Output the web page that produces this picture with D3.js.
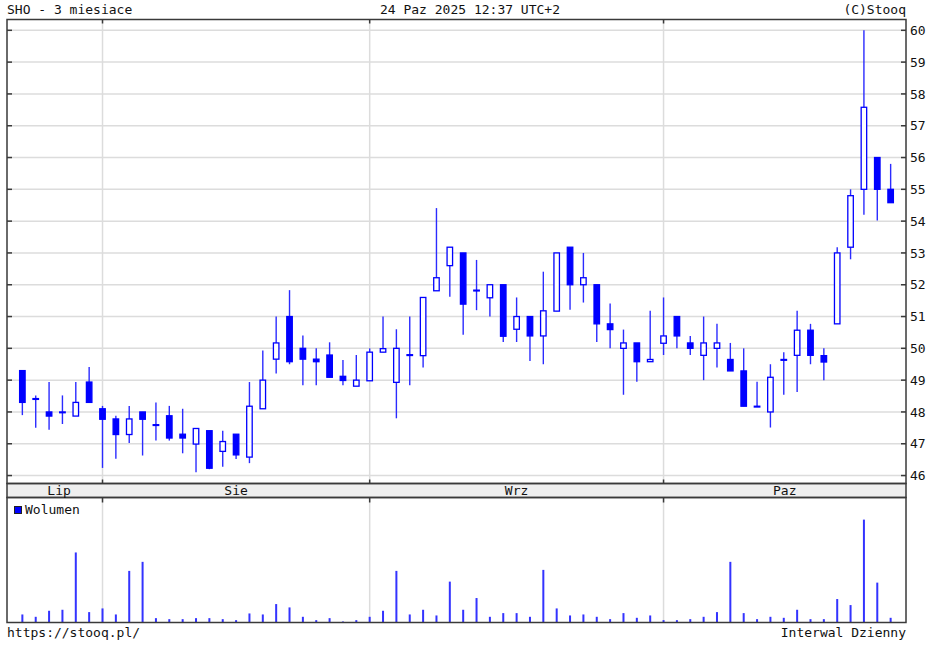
<!DOCTYPE html>
<html><head><meta charset="utf-8">
<script src="https://cdn.jsdelivr.net/npm/d3@7"></script>
<style>html,body{margin:0;padding:0;background:#fff;}svg{display:block;}</style>
</head><body>
<script>
// ---- data ----
const dates = [
 "2025-07-24","2025-07-25","2025-07-28","2025-07-29","2025-07-30","2025-07-31",
 "2025-08-01","2025-08-04","2025-08-05","2025-08-06","2025-08-07","2025-08-08",
 "2025-08-11","2025-08-12","2025-08-13","2025-08-14","2025-08-18","2025-08-19",
 "2025-08-20","2025-08-21","2025-08-22","2025-08-25","2025-08-26","2025-08-27",
 "2025-08-28","2025-08-29",
 "2025-09-01","2025-09-02","2025-09-03","2025-09-04","2025-09-05","2025-09-08",
 "2025-09-09","2025-09-10","2025-09-11","2025-09-12","2025-09-15","2025-09-16",
 "2025-09-17","2025-09-18","2025-09-19","2025-09-22","2025-09-23","2025-09-24",
 "2025-09-25","2025-09-26","2025-09-29","2025-09-30",
 "2025-10-01","2025-10-02","2025-10-03","2025-10-06","2025-10-07","2025-10-08",
 "2025-10-09","2025-10-10","2025-10-13","2025-10-14","2025-10-15","2025-10-16",
 "2025-10-17","2025-10-20","2025-10-21","2025-10-22","2025-10-23","2025-10-24"];
const open  = [49.3,48.42,48.0,48.0,47.87,48.94, 48.1,47.78,47.29,48.0,47.6,47.88,47.3,46.99,47.41,46.76,47.3,46.58,48.1,49.66,51.0,50.0,49.66,49.79,49.12,48.81,
 48.98,49.88,48.93,49.8,49.77,51.81,52.6,53.0,51.83,51.59,52.0,50.6,51.0,50.39,51.17,53.18,52.0,52.0,50.77,50.0,50.17,49.58,
 50.16,51.0,50.17,49.78,50.0,49.65,49.29,48.18,48.0,49.65,49.78,50.57,49.77,50.77,53.18,55.0,56.0,55.0];
const high  = [49.3,48.52,48.94,48.52,48.94,49.41, 48.19,47.88,48.19,48.0,48.3,48.19,48.1,47.48,47.41,47.41,47.3,48.94,49.93,51.0,51.83,50.4,50.0,50.19,49.63,49.79,
 50.0,51.0,50.6,51.0,51.6,54.41,53.18,53.0,52.78,52.0,52.0,51.6,51.0,52.41,53.0,53.18,53.0,52.0,51.41,50.59,50.17,51.18,
 51.6,51.0,50.39,51.0,50.77,50.17,50.0,48.95,49.5,49.88,51.18,50.77,50.0,53.18,55.0,60.0,56.0,55.8];
const low   = [47.9,47.5,47.44,47.62,47.87,48.3, 46.24,46.53,47.02,46.63,47.1,47.1,46.7,46.1,46.2,46.28,46.52,46.39,48.1,49.21,49.5,48.84,48.84,49.09,48.84,48.81,
 48.98,49.88,47.8,48.84,49.4,51.81,51.62,50.43,51.2,51.0,50.2,50.2,49.6,49.5,51.17,51.21,51.44,50.2,50.0,48.54,48.95,49.58,
 49.79,50.0,49.79,49.0,49.4,49.29,48.18,48.16,47.51,48.54,48.63,49.5,49.0,50.77,52.8,54.2,54.02,54.58];
const close = [48.3,48.4,47.87,48.0,48.3,48.3, 47.77,47.29,47.78,47.77,47.59,47.18,47.18,47.48,46.23,47.07,46.65,48.18,49.0,50.17,49.58,49.66,49.58,49.09,48.99,49.0,
 49.88,49.99,50.0,49.79,51.6,52.22,53.18,51.39,51.82,52.0,50.38,51.0,50.39,51.18,53.0,52.0,52.22,50.77,50.59,50.17,49.58,49.65,
 50.39,50.39,50.0,50.17,50.17,49.29,48.18,48.18,49.09,49.65,50.57,49.78,49.57,53.0,54.8,57.58,55.0,54.58];
const volume = [24,17,35,38,209,31, 42,24,154,181,13,10,10,13,13,10,7,27,24,55,45,17,7,13,3,7,
 17,35,154,24,38,21,122,38,73,17,28,28,17,157,42,21,24,17,10,28,14,21,
 7,7,10,17,31,181,28,10,17,14,38,10,10,70,52,307,119,14];
const monthNames = ["Lip","Sie","Wrz","Paz"];
const monthKeys  = ["2025-07","2025-08","2025-09","2025-10"];
const priceTicks = [46,47,48,49,50,51,52,53,54,55,56,57,58,59,60];
const titleLeft = "SHO - 3 miesiace";
const titleCenter = "24 Paz 2025 12:37 UTC+2";
const titleRight = "(C)Stooq";
const footLeft = "https://stooq.pl/";
const footRight = "Interwal Dzienny";
const legendLabel = "Wolumen";

// ---- layout ----
const W = 945, H = 652;
const L = 7, R = 906;
const pTop = 19.5, pBot = 483.5, bandBot = 497.5, vBot = 622.5;
const font = "'DejaVu Sans Mono', monospace";
const blue = "#0000ff", wickBlue = "#2b2bff", gridCol = "#dcdcdc", frameCol = "#3a3a3a";

const svg = d3.select("body").append("svg").attr("width", W).attr("height", H);

const x = d3.scalePoint().domain(dates).range([L, R]).padding(1.15);
const y = d3.scaleLinear().domain([45.75, 60.34]).range([pBot, pTop]);
const yv = d3.scaleLinear().domain([0, 373]).range([vBot, pBot + 14]);

// month starts
const monthFirst = monthKeys.map(k => dates.find(d => d.startsWith(k)));

// band fill
svg.append("rect").attr("x", L).attr("y", pBot).attr("width", R - L).attr("height", bandBot - pBot).attr("fill", "#efefef");

// horizontal grid
svg.append("g").selectAll("line").data(priceTicks).join("line")
  .attr("x1", L).attr("x2", R).attr("y1", d => y(d)).attr("y2", d => y(d))
  .attr("stroke", gridCol).attr("stroke-width", 1.5);

// vertical grid (month boundaries, skipping the first month)
const vgrid = monthFirst.slice(1);
svg.append("g").selectAll("line").data(vgrid).join("line")
  .attr("x1", d => x(d)).attr("x2", d => x(d)).attr("y1", pTop).attr("y2", pBot)
  .attr("stroke", gridCol).attr("stroke-width", 1.5);
svg.append("g").selectAll("line").data(vgrid).join("line")
  .attr("x1", d => x(d)).attr("x2", d => x(d)).attr("y1", bandBot).attr("y2", vBot)
  .attr("stroke", gridCol).attr("stroke-width", 1.5);

// candles: wicks
const cg = svg.append("g");
cg.selectAll("line").data(dates).join("line")
  .attr("x1", d => x(d)).attr("x2", d => x(d))
  .attr("y1", (d, i) => y(high[i])).attr("y2", (d, i) => y(low[i]))
  .attr("stroke", wickBlue).attr("stroke-width", 1.4);
// bodies
const bw = 5.5;
cg.selectAll("rect").data(dates).join("rect")
  .attr("x", d => x(d) - bw / 2)
  .attr("y", (d, i) => y(Math.max(open[i], close[i])))
  .attr("width", bw)
  .attr("height", (d, i) => Math.max(0.8, Math.abs(y(open[i]) - y(close[i]))))
  .attr("fill", (d, i) => close[i] < open[i] ? blue : (Math.abs(close[i]-open[i]) < 0.03 ? blue : "#fff"))
  .attr("stroke", blue).attr("stroke-width", 1.3);

// volume bars
svg.append("g").selectAll("rect").data(dates).join("rect")
  .attr("x", d => x(d) - 1).attr("width", 2)
  .attr("y", (d, i) => yv(volume[i])).attr("height", (d, i) => vBot - yv(volume[i]))
  .attr("fill", "#3333ff");

// frames
const frame = svg.append("g").attr("fill", "none").attr("stroke", frameCol).attr("stroke-width", 1.5);
frame.append("rect").attr("x", L).attr("y", pTop).attr("width", R - L).attr("height", pBot - pTop);
frame.append("rect").attr("x", L).attr("y", pBot).attr("width", R - L).attr("height", bandBot - pBot);
frame.append("rect").attr("x", L).attr("y", bandBot).attr("width", R - L).attr("height", vBot - bandBot);

// price ticks (inward, both sides)
const tk = svg.append("g").attr("stroke", frameCol).attr("stroke-width", 1.5);
priceTicks.forEach(t => {
  tk.append("line").attr("x1", L).attr("x2", L + 5).attr("y1", y(t)).attr("y2", y(t));
  tk.append("line").attr("x1", R - 5).attr("x2", R).attr("y1", y(t)).attr("y2", y(t));
});
vgrid.forEach(d => {
  tk.append("line").attr("x1", x(d)).attr("x2", x(d)).attr("y1", pTop).attr("y2", pTop + 4);
  tk.append("line").attr("x1", x(d)).attr("x2", x(d)).attr("y1", pBot - 4).attr("y2", pBot);
  tk.append("line").attr("x1", x(d)).attr("x2", x(d)).attr("y1", bandBot).attr("y2", bandBot + 5);
});

// price labels
svg.append("g").selectAll("text").data(priceTicks).join("text")
  .attr("x", 910).attr("y", d => y(d)).attr("dy", "0.36em")
  .attr("font-family", font).attr("font-size", 13).attr("fill", "#111")
  .text(d => d);

// month labels
const monthBounds = monthFirst.map((d, i) => {
  const i0 = dates.indexOf(d);
  const xs = i === 0 ? x(d) - x.step() / 2 : x(d);
  const xe = i < monthFirst.length - 1 ? x(monthFirst[i + 1]) : R;
  return (xs + xe) / 2;
});
svg.append("g").selectAll("text").data(monthNames).join("text")
  .attr("x", (d, i) => monthBounds[i]).attr("y", pBot + 11)
  .attr("text-anchor", "middle").attr("font-family", font).attr("font-size", 13).attr("fill", "#111")
  .text(d => d);

// titles
const txt = (s, xx, yy, anchor) => svg.append("text").attr("x", xx).attr("y", yy)
  .attr("text-anchor", anchor).attr("font-family", font).attr("font-size", 13).attr("fill", "#111").text(s);
txt(titleLeft, L, 14, "start");
txt(titleCenter, 470, 14, "middle");
txt(titleRight, R, 14, "end");
txt(footLeft, L, 637, "start");
txt(footRight, R, 637, "end");

// legend
svg.append("rect").attr("x", 14.5).attr("y", 506.5).attr("width", 7).attr("height", 7)
  .attr("fill", blue).attr("stroke", "#222").attr("stroke-width", 1);
txt(legendLabel, 25, 514, "start");
</script>
</body></html>
